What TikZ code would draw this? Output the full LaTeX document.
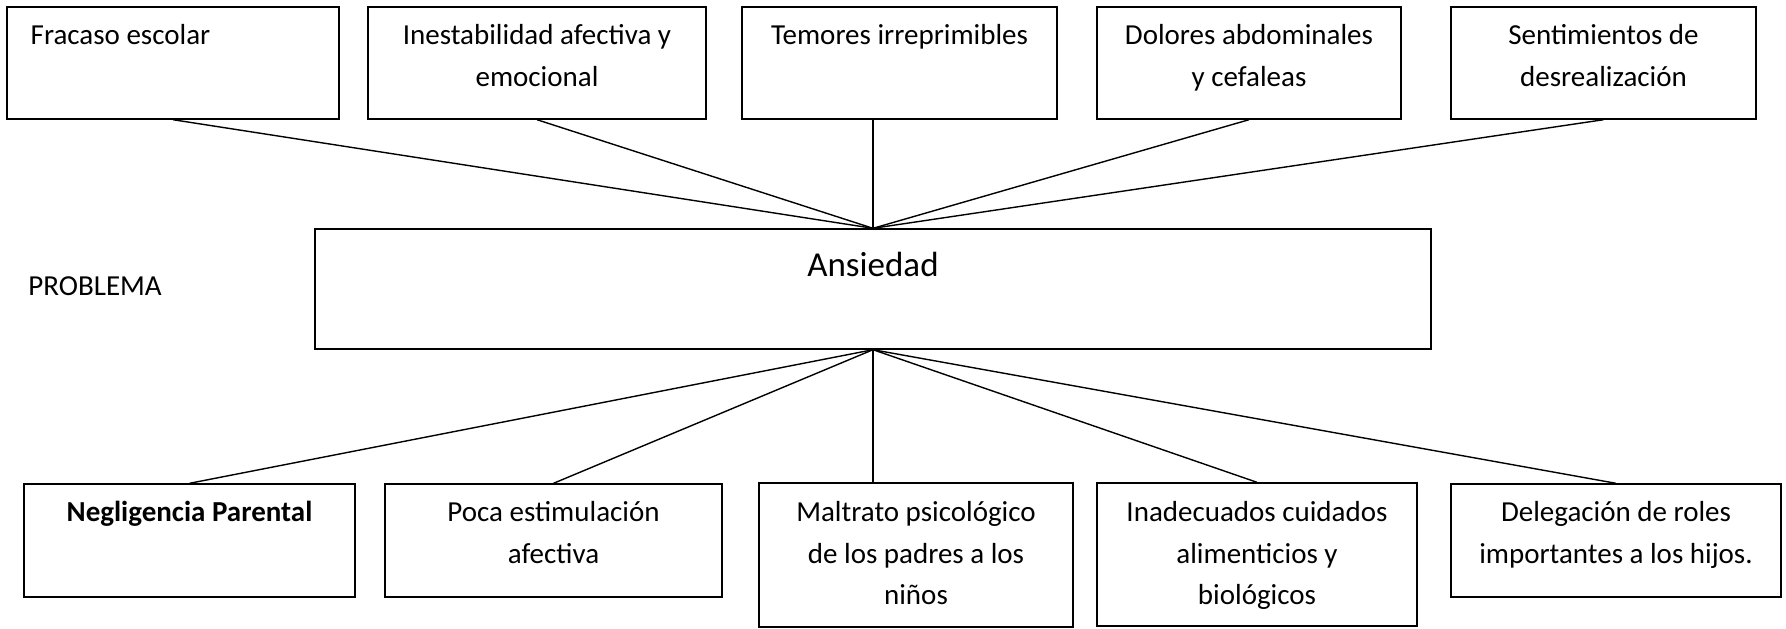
\documentclass[tikz,border=0pt]{standalone}
\usepackage{fontspec}
\setmainfont{Carlito}
\usetikzlibrary{positioning}

\newcommand{\txtsize}{\fontsize{14.5}{20.75}\selectfont}
\tikzset{
	caja/.style={draw, line width=0.7pt, inner sep=0pt},
	texto/.style={inner sep=0pt, align=center, font=\txtsize},
	enlace/.style={line width=0.7pt}
}

\begin{document}
\begin{tikzpicture}[x=0.5pt, y=-0.5pt]
					\useasboundingbox (0,0) rectangle (1786,628);

					% Efectos
					\node[caja, minimum width=166pt, minimum height=56pt] (E1) at (173,63) {};
					\node[caja, minimum width=169pt, minimum height=56pt] (E2) at (537,63) {};
					\node[caja, minimum width=157.5pt, minimum height=56pt] (E3) at (899.5,63) {};
					\node[caja, minimum width=152pt, minimum height=56pt] (E4) at (1249,63) {};
					\node[caja, minimum width=152.5pt, minimum height=56pt] (E5) at (1603.5,63) {};
					\node[texto, align=left, below right=4.5pt and 12pt of E1.north west] (tE1) {\strut Fracaso escolar};
					\node[texto, below=4.5pt of E2.north] (tE2) {\strut Inestabilidad afectiva y\\emocional};
					\node[texto, below=4.5pt of E3.north] (tE3) {\strut Temores irreprimibles};
					\node[texto, below=4.5pt of E4.north] (tE4) {\strut Dolores abdominales\\y cefaleas};
					\node[texto, below=4.5pt of E5.north] (tE5) {\strut Sentimientos de\\desrealización};

					% Problema
					\node[caja, minimum width=558pt, minimum height=60pt] (ans) at (873,289) {};
					\node[texto, font=\fontsize{17.5}{25}\selectfont, below=6.5pt of ans.north] (tans) {\strut Ansiedad};
					\node[texto, anchor=base west] (prob) at (28,295) {PROBLEMA};

					% Causas
					\node[caja, minimum width=165.5pt, minimum height=56.5pt] (C1) at (189.5,540.5) {};
					\node[caja, minimum width=168.5pt, minimum height=56.5pt] (C2) at (553.5,540.5) {};
					\node[caja, minimum width=157pt, minimum height=72pt] (C3) at (916,555) {};
					\node[caja, minimum width=160pt, minimum height=71.5pt] (C4) at (1257,554.5) {};
					\node[caja, minimum width=165pt, minimum height=56.5pt] (C5) at (1616,540.5) {};
					\node[texto, below=4.5pt of C1.north] (tC1) {\strut\bfseries Negligencia Parental};
					\node[texto, below=4.5pt of C2.north] (tC2) {\strut Poca estimulación\\afectiva};
					\node[texto, below=5pt of C3.north] (tC3) {\strut Maltrato psicológico\\de los padres a los\\niños};
					\node[texto, below=5pt of C4.north] (tC4) {\strut Inadecuados cuidados\\alimenticios y\\biológicos};
					\node[texto, below=4.5pt of C5.north] (tC5) {\strut Delegación de roles\\importantes a los hijos.};

					% Connect the nodes
					\foreach \e in {E1,E2,E4,E5}
						\draw[enlace] (\e.south) -- (ans.north);
					\draw[enlace] (ans.north |- E3.south) -- (ans.north);
					\foreach \c in {C1,C2,C4,C5}
						\draw[enlace] (ans.south) -- (\c.north);
					\draw[enlace] (ans.south) -- (ans.south |- C3.north);
\end{tikzpicture}
\end{document}
